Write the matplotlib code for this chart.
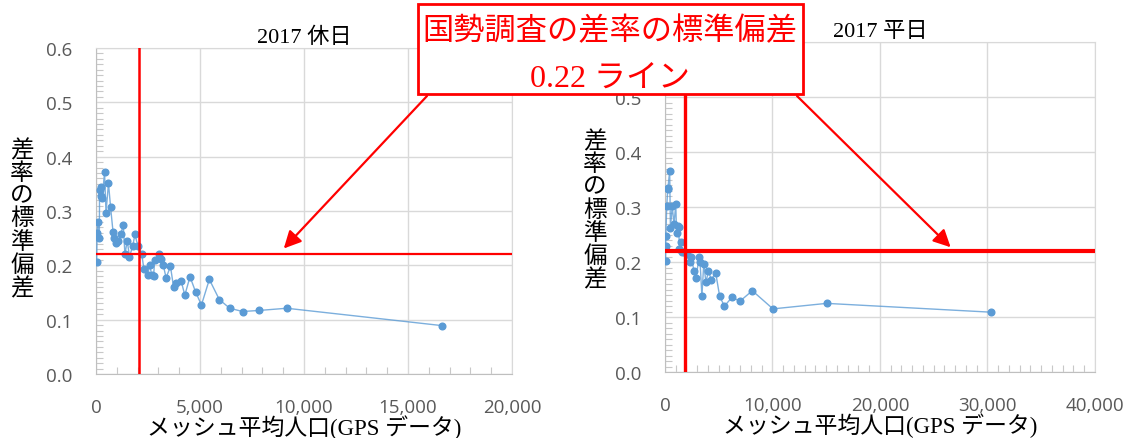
import numpy as np
import matplotlib.pyplot as plt
from matplotlib.patches import Rectangle
from matplotlib.ticker import MultipleLocator, FuncFormatter

JP = ['Liberation Serif', 'Noto Sans CJK JP']
NUM = ['Open Sans', 'DejaVu Sans']

# 2017 休日: mesh mean population vs std of difference ratio
holiday_pop = [30, 50, 80, 160, 170, 230, 260, 300, 410, 480, 600, 700, 820, 850,
               960, 1080, 1190, 1310, 1390, 1500, 1610, 1770, 1870, 2010, 2200,
               2300, 2480, 2580, 2680, 2770, 2820, 3030, 3130, 3230, 3370, 3580,
               3730, 3870, 4090, 4270, 4520, 4800, 5070, 5450, 5930, 6430, 7050,
               7860, 9170, 16650]
holiday_sd = [0.207, 0.259, 0.280, 0.250, 0.339, 0.345, 0.328, 0.324, 0.371, 0.297,
              0.351, 0.307, 0.261, 0.250, 0.242, 0.244, 0.258, 0.274, 0.220, 0.245,
              0.216, 0.236, 0.257, 0.236, 0.220, 0.194, 0.182, 0.201, 0.182, 0.181,
              0.209, 0.220, 0.212, 0.201, 0.177, 0.198, 0.160, 0.167, 0.172, 0.145,
              0.179, 0.150, 0.127, 0.174, 0.137, 0.121, 0.115, 0.117, 0.121, 0.089]

# 2017 平日
weekday_pop = [60, 70, 80, 170, 260, 280, 440, 510, 680, 840, 1010, 1080, 1180, 1280,
               1350, 1450, 1590, 1790, 2090, 2290, 2460, 2700, 2900, 3170, 3270, 3440,
               3610, 3810, 4050, 4320, 4720, 5090, 5530, 6240, 6980, 8130, 10050,
               15040, 30320]
weekday_sd = [0.202, 0.229, 0.247, 0.302, 0.332, 0.335, 0.365, 0.262, 0.302, 0.269,
              0.305, 0.252, 0.265, 0.264, 0.223, 0.236, 0.218, 0.219, 0.215, 0.201,
              0.210, 0.183, 0.171, 0.209, 0.200, 0.138, 0.197, 0.164, 0.183, 0.168,
              0.181, 0.138, 0.120, 0.136, 0.129, 0.148, 0.115, 0.125, 0.109]

titles = ['2017 休日', '2017 平日']
x_max = [20000, 40000]
x_step = [5000, 10000]
ref_line = 0.22
pop_cut = [2080, 1880]
ylabel = '差率の標準偏差'
xlabel = 'メッシュ平均人口(GPS データ)'
note = ['国勢調査の差率の標準偏差', '0.22 ライン']

BLUE = '#5b9bd5'
GRID = '#d9d9d9'
TICK = '#595959'

fig = plt.figure(figsize=(11.27, 4.39), dpi=100)
axes = [fig.add_axes([0.0852, 0.1458, 0.369, 0.7426]),
        fig.add_axes([0.590, 0.150, 0.3815, 0.752])]
series = [(holiday_pop, holiday_sd), (weekday_pop, weekday_sd)]
hline_w = [1.6, 3.0]
vline_w = [1.8, 2.4]
ylab_pos = [(-0.178, 0.475), (-0.163, 0.49)]
arrow_tip = [(9030, 0.231), (26580, 0.227)]
arrow_tail = [(427, 97), (797, 97)]

for i, ax in enumerate(axes):
    x, y = series[i]
    ax.plot(x, y, color=BLUE, lw=1.0, alpha=0.8, zorder=3)
    ax.plot(x, y, 'o', color=BLUE, ms=4.8, mec=BLUE, zorder=4)
    ax.set_xlim(0, x_max[i])
    ax.set_ylim(0, 0.6)
    ax.xaxis.set_major_locator(MultipleLocator(x_step[i]))
    ax.xaxis.set_minor_locator(MultipleLocator(1000))
    ax.yaxis.set_major_locator(MultipleLocator(0.1))
    ax.yaxis.set_minor_locator(MultipleLocator(0.01))
    ax.xaxis.set_major_formatter(FuncFormatter(lambda v, p: f'{v:,.0f}'))
    ax.yaxis.set_major_formatter(FuncFormatter(lambda v, p: f'{v:.1f}'))
    ax.grid(True, which='major', color=GRID, lw=1.0)
    ax.set_axisbelow(True)
    ax.tick_params(which='major', length=0, pad=17, labelsize=13.5, labelcolor=TICK)
    ax.tick_params(which='minor', direction='in', length=5, width=0.8, color='#c8c8c8')
    for lab in ax.get_xticklabels() + ax.get_yticklabels():
        lab.set_family(NUM)
    for side in ['top', 'right']:
        ax.spines[side].set_color(GRID)
    for side in ['left', 'bottom']:
        ax.spines[side].set_color('#bfbfbf')

    ax.axhline(ref_line, xmax=0.995 if i else 1.0, color='red', lw=hline_w[i], zorder=5)
    ax.axvline(pop_cut[i], color='red', lw=vline_w[i], zorder=5)

    ax.set_title(titles[i], family=JP, fontsize=16, pad=4)
    ax.set_xlabel(xlabel, family=JP, fontsize=16.5, labelpad=-1)
    ax.set_ylabel('\n'.join(ylabel), family=JP, fontsize=17, rotation=0,
                  linespacing=1.08, va='center', ha='center')
    ax.yaxis.set_label_coords(*ylab_pos[i])

    tx, ty = arrow_tail[i]
    ax.annotate('', xy=arrow_tip[i], xycoords='data',
                xytext=(tx / 1127, 1 - ty / 439), textcoords='figure fraction',
                arrowprops=dict(arrowstyle='-|>', color='red', lw=1.6,
                                mutation_scale=26, shrinkA=0, shrinkB=0),
                zorder=6)

# annotation box
fig.add_artist(Rectangle((418 / 1127, 1 - 95 / 439), 385 / 1127, 90 / 439,
                         transform=fig.transFigure, facecolor='white',
                         edgecolor='red', lw=2.0, zorder=10))
fig.text(610 / 1127, 1 - 32 / 439, note[0], family=JP, fontsize=22.5, color='red',
         ha='center', va='center', zorder=11)
fig.text(610 / 1127, 1 - 79 / 439, note[1], family=JP, fontsize=23, color='red',
         ha='center', va='center', zorder=11)

fig.savefig('out.png', dpi=100)
